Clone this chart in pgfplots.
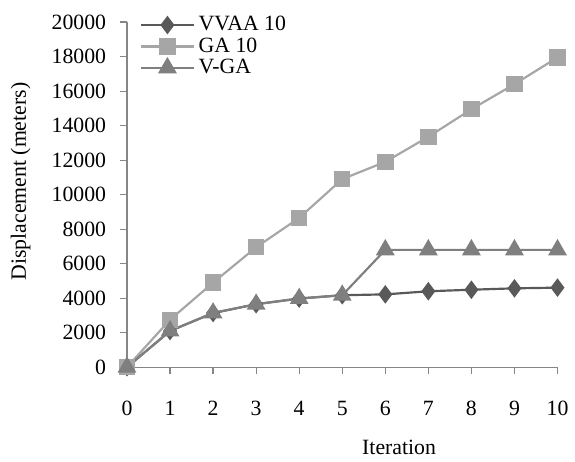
\documentclass[border=0pt]{standalone}
\usepackage{pgfplots}
\pgfplotsset{compat=1.18}
\usepackage{fontspec}
\setmainfont{Liberation Serif}
\definecolor{axgray}{HTML}{868686}
\definecolor{cvvaa}{HTML}{595959}
\definecolor{cga}{HTML}{A6A6A6}
\definecolor{cvga}{HTML}{7F7F7F}
\begin{document}
\begin{tikzpicture}
\begin{axis}[
  name=ax,
  scale only axis,
  width=217.5pt, height=174.35pt,
  xmin=0, xmax=10, ymin=0, ymax=20000,
  xtick={0,...,10}, ytick={0,2000,...,20000},
  axis lines=left,
  axis line style={-, axgray, line width=0.6pt},
  tick style={axgray, line width=0.6pt},
  tick align=outside,
  major tick length=3.5pt,
  font=\fontsize{11}{12.5}\selectfont,
  /pgf/number format/assume math mode=true,
  scaled y ticks=false,
  yticklabel style={/pgf/number format/fixed, /pgf/number format/1000 sep={}, xshift=-3.5pt},
  xticklabel style={yshift=-10pt},
  xlabel={Iteration},
  ylabel={Displacement (meters)},
  every axis x label/.style={at={(axis description cs:0.632,-0.232)}, anchor=center},
  every axis y label/.style={at={(axis description cs:-0.247,0.538)}, anchor=center, rotate=90},
  legend style={draw=none, fill=none, at={(axis description cs:0.025,1.035)}, anchor=north west,
    font=\fontsize{11}{12.5}\selectfont, row sep=-2pt, inner sep=1pt},
  legend cell align=left,
  legend image code/.code={\draw[mark repeat=2,mark phase=2,#1] plot coordinates {(0pt,0pt) (13.25pt,0pt) (26.5pt,0pt)};},
  clip=false,
]
\addplot[cvvaa, line width=1.1pt, mark=diamond*, mark size=3.8pt, mark options={solid, fill=cvvaa}] coordinates {
(0,0) (1,2100) (2,3140) (3,3650) (4,3980) (5,4170) (6,4220) (7,4400) (8,4490) (9,4570) (10,4610)};
\addlegendentry{VVAA 10}
\addplot[cga, line width=1.1pt, mark=square*, mark size=3.6pt, mark options={solid, fill=cga}] coordinates {
(0,0) (1,2750) (2,4900) (3,6950) (4,8650) (5,10900) (6,11900) (7,13350) (8,14950) (9,16400) (10,17950)};
\addlegendentry{GA 10}
\addplot[cvga, line width=1.1pt, mark=triangle*, mark size=4.4pt, mark options={solid, fill=cvga}] coordinates {
(0,0) (1,2100) (2,3140) (3,3650) (4,3980) (5,4170) (6,6800) (7,6800) (8,6800) (9,6800) (10,6800)};
\addlegendentry{V-GA}
\end{axis}
\path ([shift={(-64.15pt,-46pt)}]ax.south west) rectangle ([shift={(5.75pt,11.15pt)}]ax.north east);
\end{tikzpicture}
\end{document}
